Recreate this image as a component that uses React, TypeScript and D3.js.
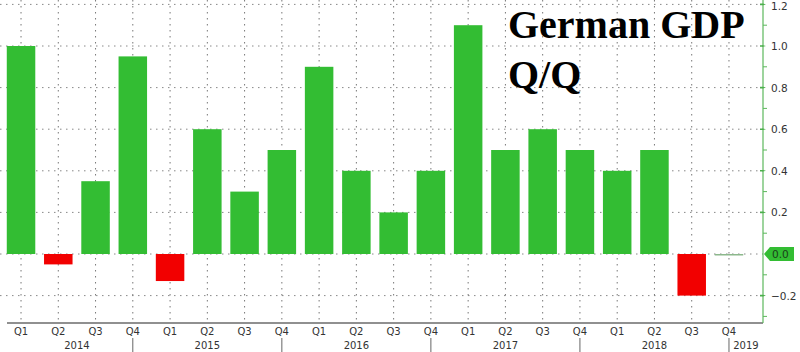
import React, { useEffect, useRef } from "react";
import * as d3 from "d3";

const quarters = ["Q1", "Q2", "Q3", "Q4"];
const years = ["2014", "2015", "2016", "2017", "2018"];
const gdpQoQ = [
  1.0, -0.05, 0.35, 0.95,
  -0.13, 0.6, 0.3, 0.5,
  0.9, 0.4, 0.2, 0.4,
  1.1, 0.5, 0.6, 0.5,
  0.4, 0.5, -0.2, 0.0,
];
const yearLabels = ["2014", "2015", "2016", "2017", "2018", "2019"];
const yTicks = [-0.2, 0, 0.2, 0.4, 0.6, 0.8, 1.0, 1.2];

const W = 800;
const H = 352;

const App = () => {
  const svgRef = useRef<SVGSVGElement>(null);

  useEffect(() => {
    const svg = d3.select(svgRef.current);
    svg.selectAll("*").remove();

    const data = gdpQoQ.map((v, i) => ({
      key: `${years[Math.floor(i / 4)]}-${quarters[i % 4]}`,
      q: quarters[i % 4],
      value: v,
    }));

    const plotLeft = 0;
    const plotRight = 763;
    const axisY = 323;

    const x = d3.scaleBand()
      .domain(data.map(d => d.key))
      .range([2.4, 747.6])
      .paddingInner(0.235)
      .paddingOuter(0.1175);
    const cx = (k: string) => (x(k) as number) + x.bandwidth() / 2;

    const y = d3.scaleLinear().domain([0, 1.2]).range([254, 4.4]);

    // horizontal grid
    svg.append("g")
      .selectAll("line")
      .data(yTicks)
      .enter()
      .append("line")
      .attr("x1", plotLeft)
      .attr("x2", plotRight)
      .attr("y1", d => y(d))
      .attr("y2", d => y(d))
      .attr("stroke", "#888")
      .attr("stroke-width", 1)
      .attr("stroke-dasharray", "1.5 4.5");

    // vertical grid
    svg.append("g")
      .selectAll("line")
      .data(data)
      .enter()
      .append("line")
      .attr("x1", d => cx(d.key))
      .attr("x2", d => cx(d.key))
      .attr("y1", 0)
      .attr("y2", axisY)
      .attr("stroke", "#777")
      .attr("stroke-width", 1)
      .attr("stroke-dasharray", "1.5 4.5");

    // bars
    svg.append("g")
      .selectAll("rect")
      .data(data)
      .enter()
      .append("rect")
      .attr("x", d => x(d.key) as number)
      .attr("width", x.bandwidth())
      .attr("y", d => y(Math.max(0, d.value)))
      .attr("height", d => Math.max(Math.abs(y(d.value) - y(0)), 1.5))
      .attr("fill", d => (d.value < 0 ? "#f20000" : d.value === 0 ? "#8cb88c" : "#33bd33"));

    // x axis line
    svg.append("line")
      .attr("x1", plotLeft + 7)
      .attr("x2", plotRight)
      .attr("y1", axisY)
      .attr("y2", axisY)
      .attr("stroke", "#222")
      .attr("stroke-width", 1.2);

    // quarter labels
    svg.append("g")
      .selectAll("text")
      .data(data)
      .enter()
      .append("text")
      .attr("x", d => cx(d.key))
      .attr("y", 335)
      .attr("text-anchor", "middle")
      .attr("font-family", "DejaVu Sans")
      .attr("font-size", 10)
      .attr("fill", "#333")
      .text(d => d.q);

    // year separators at Q4 positions
    const q4s = data.filter(d => d.q === "Q4").map(d => cx(d.key));
    svg.append("g")
      .selectAll("line")
      .data(q4s)
      .enter()
      .append("line")
      .attr("x1", d => d)
      .attr("x2", d => d)
      .attr("y1", axisY + 15)
      .attr("y2", H)
      .attr("stroke", "#666")
      .attr("stroke-width", 1);

    const bounds = [cx(data[0].key), ...q4s, plotRight];
    svg.append("g")
      .selectAll("text")
      .data(yearLabels)
      .enter()
      .append("text")
      .attr("x", (d, i) => (bounds[i] + bounds[i + 1]) / 2)
      .attr("y", 348.5)
      .attr("text-anchor", "middle")
      .attr("font-family", "DejaVu Sans")
      .attr("font-size", 10)
      .attr("fill", "#333")
      .text(d => d);

    // right axis
    svg.append("line")
      .attr("x1", plotRight)
      .attr("x2", plotRight)
      .attr("y1", 0)
      .attr("y2", axisY)
      .attr("stroke", "#5cb85c")
      .attr("stroke-width", 1.2);

    const minor = d3.range(-0.3, 1.25, 0.2);
    svg.append("g")
      .selectAll("line")
      .data(minor)
      .enter()
      .append("line")
      .attr("x1", plotRight)
      .attr("x2", plotRight + 4)
      .attr("y1", d => y(d))
      .attr("y2", d => y(d))
      .attr("stroke", "#5cb85c");

    svg.append("g")
      .selectAll("path")
      .data(yTicks.filter(d => d !== 0))
      .enter()
      .append("path")
      .attr("d", d => `M${plotRight - 3},${y(d) - 0.8}h3l3,0.8l-3,0.8h-3z`)
      .attr("fill", "#4caf4c");

    svg.append("g")
      .selectAll("text")
      .data(yTicks.filter(d => d !== 0))
      .enter()
      .append("text")
      .attr("x", plotRight + 8)
      .attr("y", d => Math.max(y(d) + 4, 10))
      .attr("font-family", "DejaVu Sans")
      .attr("font-size", 10.5)
      .attr("fill", "#333")
      .text(d => d3.format(".1f")(d));

    // current value marker at 0.0
    const y0 = y(0);
    svg.append("path")
      .attr("d", `M${plotRight + 1},${y0}L${plotRight + 7},${y0 - 7}H${plotRight + 31}V${y0 + 7}H${plotRight + 7}Z`)
      .attr("fill", "#33bd33");
    svg.append("text")
      .attr("x", plotRight + 9)
      .attr("y", y0 + 4)
      .attr("font-family", "DejaVu Sans")
      .attr("font-size", 10.5)
      .attr("fill", "#1a3d1a")
      .text("0.0");

    // title
    const title = svg.append("text")
      .attr("font-family", "Liberation Serif")
      .attr("font-weight", "bold")
      .attr("font-size", 40)
      .attr("fill", "#000");
    title.append("tspan").attr("x", 508).attr("y", 38).text("German GDP");
    title.append("tspan").attr("x", 508).attr("y", 88).text("Q/Q");
  }, []);

  return (
    <svg
      ref={svgRef}
      width={W}
      height={H}
      style={{ position: "absolute", left: 0, top: 0, background: "#fff" }}
    />
  );
};

export default App;
